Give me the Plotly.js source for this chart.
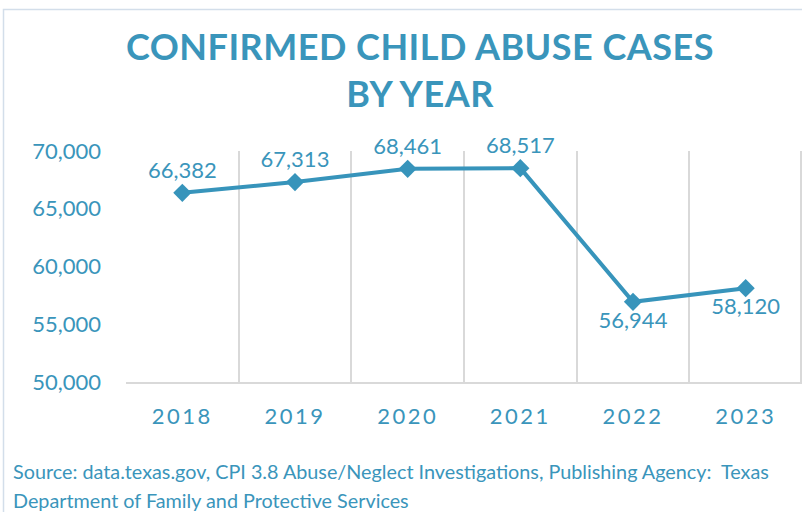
<!DOCTYPE html>
<html>
<head>
<meta charset="utf-8">
<script src="https://cdn.plot.ly/plotly-3.0.1.min.js"></script>
<style>
  html, body { margin: 0; padding: 0; background: #fff; }
  #chart { width: 802px; height: 512px; }
  .gtitle { letter-spacing: 0.5px; }
  .xtick text { letter-spacing: 2.5px; }
</style>
</head>
<body>
<div id="chart"></div>
<script>
const years = ["2018", "2019", "2020", "2021", "2022", "2023"];
const cases = [66382, 67313, 68461, 68517, 56944, 58120];
const labelPositions = ["top center", "top center", "top center", "top center", "bottom center", "bottom center"];
const yTicks = [50000, 55000, 60000, 65000, 70000];
const titleText = "CONFIRMED CHILD ABUSE CASES<br>BY YEAR";
const sourceLine1 = "Source: data.texas.gov, CPI 3.8 Abuse/Neglect Investigations, Publishing Agency:  Texas";
const sourceLine2 = "Department of Family and Protective Services";

const blue = "#3794BB";
const textBlue = "#3A95BB";
const grid = "#D9D9D9";
const font = "Lato, 'Open Sans', sans-serif";

// plot area in pixels: left 126, right 802, top 151, bottom 382
const W = 802, H = 512, L = 126, R = 0, T = 151, B = 130;
const pw = W - L - R, ph = H - T - B;
const px = v => (v - L) / pw;
const py = v => (H - B - v) / ph;

const trace = {
  type: "scatter",
  mode: "lines+markers+text",
  x: years,
  y: cases,
  texttemplate: "%{y:,d}",
  textposition: labelPositions,
  textfont: { family: font, size: 22, color: textBlue },
  line: { color: blue, width: 4 },
  marker: { symbol: "diamond", size: 14, color: blue },
  hoverinfo: "skip",
  cliponaxis: false
};

const layout = {
  width: W, height: H,
  margin: { l: L, r: R, t: T, b: B, pad: 0 },
  paper_bgcolor: "#fff",
  plot_bgcolor: "#fff",
  showlegend: false,
  title: {
    text: titleText,
    font: { family: font, size: 36, color: textBlue, weight: 700 },
    x: 420 / W, xref: "container", xanchor: "center",
    y: 1 - 60 / H, yref: "container", yanchor: "middle"
  },
  xaxis: {
    type: "category",
    tickson: "boundaries",
    ticks: "",
    showgrid: true,
    gridcolor: grid,
    gridwidth: 2,
    showline: true,
    linecolor: grid,
    linewidth: 2,
    zeroline: false,
    tickfont: { family: font, size: 22, color: textBlue },
    ticklabelstandoff: 14,
    range: [-0.5, 5.5],
    fixedrange: true
  },
  yaxis: {
    range: [50000, 70000],
    tickvals: yTicks,
    tickformat: ",d",
    showgrid: false,
    zeroline: false,
    showline: false,
    ticks: "",
    tickfont: { family: font, size: 22, color: textBlue },
    ticklabelstandoff: 24,
    fixedrange: true
  },
  shapes: [
    {
      type: "rect", xref: "paper", yref: "paper",
      x0: px(3.5), x1: px(810), y0: py(520), y1: py(9.5),
      line: { color: "#D3DEEA", width: 1.5 }, fillcolor: "rgba(0,0,0,0)", layer: "below"
    },
    {
      type: "line", xref: "paper", yref: "paper",
      x0: px(801), x1: px(801), y0: 0, y1: 1,
      line: { color: grid, width: 2 }, layer: "below"
    }
  ],
  annotations: [
    {
      text: sourceLine1, xref: "paper", yref: "paper",
      x: px(11), y: py(471), xanchor: "left", yanchor: "middle", showarrow: false,
      font: { family: font, size: 19.8, color: textBlue }
    },
    {
      text: sourceLine2, xref: "paper", yref: "paper",
      x: px(11), y: py(500), xanchor: "left", yanchor: "middle", showarrow: false,
      font: { family: font, size: 19.8, color: textBlue }
    }
  ]
};

Plotly.newPlot("chart", [trace], layout, { displayModeBar: false, staticPlot: true });
</script>
</body>
</html>
